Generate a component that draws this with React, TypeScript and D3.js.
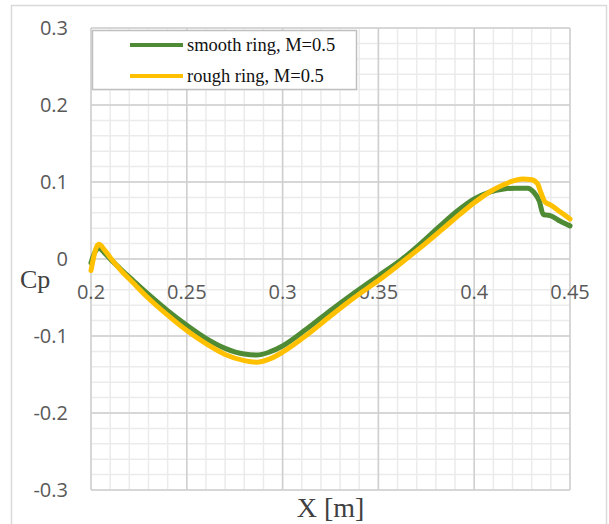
import React from 'react';
import * as d3 from 'd3';

// Cp distribution along the ring
const smoothX = [0.2, 0.2015, 0.203, 0.2042, 0.207, 0.21, 0.215, 0.222, 0.23, 0.24, 0.25, 0.26, 0.27, 0.28, 0.2865, 0.293, 0.3, 0.3125, 0.325, 0.3375, 0.35, 0.3625, 0.3725, 0.3822, 0.391, 0.4, 0.408, 0.4155, 0.422, 0.428, 0.431, 0.434, 0.436, 0.438, 0.44, 0.445, 0.45];
const smoothCp = [-0.005, 0.006, 0.0125, 0.014, 0.008, 0.0, -0.012, -0.028, -0.046, -0.067, -0.086, -0.103, -0.116, -0.1235, -0.1247, -0.121, -0.113, -0.091, -0.067, -0.044, -0.022, 0.0, 0.021, 0.043, 0.062, 0.078, 0.087, 0.091, 0.092, 0.092, 0.087, 0.075, 0.058, 0.057, 0.056, 0.049, 0.043];

const roughX = [0.2, 0.2012, 0.2028, 0.2042, 0.207, 0.21, 0.215, 0.222, 0.23, 0.24, 0.25, 0.26, 0.27, 0.28, 0.2865, 0.293, 0.3, 0.3125, 0.325, 0.3375, 0.35, 0.3645, 0.3745, 0.3845, 0.393, 0.4, 0.408, 0.415, 0.42, 0.425, 0.43, 0.433, 0.435, 0.437, 0.44, 0.445, 0.45];
const roughCp = [-0.015, 0.0, 0.015, 0.019, 0.012, 0.002, -0.013, -0.031, -0.051, -0.073, -0.093, -0.11, -0.124, -0.132, -0.134, -0.13, -0.121, -0.099, -0.074, -0.05, -0.028, 0.0, 0.02, 0.041, 0.059, 0.073, 0.087, 0.096, 0.101, 0.104, 0.103, 0.098, 0.085, 0.074, 0.07, 0.061, 0.052];

const xTicks = [0.2, 0.25, 0.3, 0.35, 0.4, 0.45];
const yTicks = [-0.3, -0.2, -0.1, 0, 0.1, 0.2, 0.3];

const seriesNames = ['smooth ring, M=0.5', 'rough ring, M=0.5'];
const seriesColors = ['#4f8a34', '#ffc000'];

const W = 609;
const H = 524;
const plot = {left: 91, right: 570, top: 28, bottom: 490};

export default function App() {
  const x = d3.scaleLinear().domain([0.2, 0.45]).range([plot.left, plot.right]);
  const y = d3.scaleLinear().domain([-0.3, 0.3]).range([plot.bottom, plot.top]);

  const line = d3.line<[number, number]>()
    .x(d => x(d[0]))
    .y(d => y(d[1]))
    .curve(d3.curveMonotoneX);

  const smooth = smoothX.map((v, i) => [v, smoothCp[i]] as [number, number]);
  const rough = roughX.map((v, i) => [v, roughCp[i]] as [number, number]);

  // minor grid: 0.01 in x, 0.02 in y
  const xMinor = d3.range(0, 26).map(i => 0.2 + i * 0.01);
  const yMinor = d3.range(0, 31).map(i => -0.3 + i * 0.02);

  const tickFont = '"Open Sans", sans-serif';
  const serif = '"Liberation Serif", "Times New Roman", serif';

  return (
    <div style={{position: 'fixed', left: 0, top: 0}}>
      <svg width={W} height={H} viewBox={`0 0 ${W} ${H}`} style={{display: 'block', background: '#fff'}}>
        <rect x={11.5} y={5.5} width={595} height={530} fill="#fff" stroke="#d9d9d9" strokeWidth={1.5} />

        {/* grid */}
        <g>
          {xMinor.map((v, i) => (
            <line key={'xm' + i} x1={x(v)} x2={x(v)} y1={plot.top} y2={plot.bottom} stroke="#ebebeb" strokeWidth={1.5} />
          ))}
          {yMinor.map((v, i) => (
            <line key={'ym' + i} x1={plot.left} x2={plot.right} y1={y(v)} y2={y(v)} stroke="#ebebeb" strokeWidth={1.5} />
          ))}
          {xTicks.map(v => (
            <line key={'xM' + v} x1={x(v)} x2={x(v)} y1={plot.top} y2={plot.bottom} stroke="#cfcfcf" strokeWidth={1.5} />
          ))}
          {yTicks.map(v => (
            <line key={'yM' + v} x1={plot.left} x2={plot.right} y1={y(v)} y2={y(v)} stroke="#cfcfcf" strokeWidth={1.5} />
          ))}
        </g>

        {/* tick labels */}
        <g fontFamily={tickFont} fontSize={20} fill="#595959">
          {yTicks.map(v => (
            <text key={'yl' + v} x={68} y={y(v)} dy="0.35em" textAnchor="end">{String(v)}</text>
          ))}
          {xTicks.map(v => (
            <text key={'xl' + v} x={x(v)} y={y(0) + 33} dy="0.35em" textAnchor="middle">{String(v)}</text>
          ))}
        </g>

        {/* series */}
        <path d={line(smooth) ?? ''} fill="none" stroke={seriesColors[0]} strokeWidth={5} strokeLinejoin="round" strokeLinecap="round" />
        <path d={line(rough) ?? ''} fill="none" stroke={seriesColors[1]} strokeWidth={5} strokeLinejoin="round" strokeLinecap="round" />

        {/* axis titles */}
        <text x={20} y={288} fontFamily={serif} fontSize={26} fill="#404040">Cp</text>
        <text x={(plot.left + plot.right) / 2} y={517} textAnchor="middle" fontFamily={serif} fontSize={28} fill="#404040">X [m]</text>

        {/* legend */}
        <g>
          <rect x={92.5} y={30.5} width={264} height={59} fill="#fff" stroke="#bfbfbf" strokeWidth={1.5} />
          {seriesNames.map((name, i) => (
            <g key={name} transform={`translate(0,${45 + i * 31})`}>
              <line x1={130} x2={183} y1={0} y2={0} stroke={seriesColors[i]} strokeWidth={4} />
              <text x={187} y={0} dy="0.32em" fontFamily={serif} fontSize={18.5} fill="#111">{name}</text>
            </g>
          ))}
        </g>
      </svg>
    </div>
  );
}
